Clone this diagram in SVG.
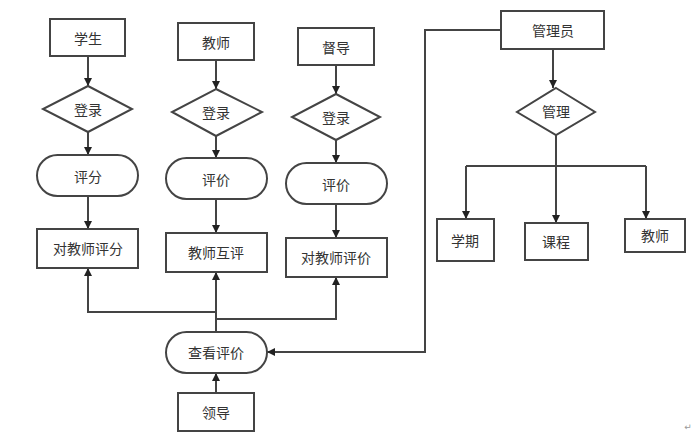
<svg xmlns="http://www.w3.org/2000/svg" width="693" height="445" viewBox="0 0 693 445">
<defs>
<marker id="ah" viewBox="0 0 10 10" refX="10" refY="5" markerWidth="4" markerHeight="4" orient="auto" markerUnits="strokeWidth">
<path d="M0,0 L10,5 L0,10 z" fill="#222"/>
</marker>
<style>
.n{fill:#fff;stroke:#444;stroke-width:2}
.t{font-family:"Noto Sans CJK SC","Noto Sans CJK JP",sans-serif;font-size:14px;fill:#333;text-anchor:middle;dominant-baseline:central}
.c{fill:none;stroke:#444;stroke-width:2;marker-end:url(#ah)}
.l{fill:none;stroke:#444;stroke-width:2}
</style>
</defs>
<rect width="693" height="445" fill="#fff"/>
<g id="connectors">
<path class="c" d="M88,56 V86"/>
<path class="c" d="M88,132 V155"/>
<path class="c" d="M88,196 V229"/>
<path class="c" d="M216,60 V89"/>
<path class="c" d="M216,136 V158"/>
<path class="c" d="M216,199 V233"/>
<path class="c" d="M336,65 V94"/>
<path class="c" d="M336,140 V163"/>
<path class="c" d="M336,204 V238"/>
<path class="c" d="M553,49 V88"/>
<path class="l" d="M556,135 V166"/>
<path class="l" d="M466,166 H646"/>
<path class="c" d="M466,166 V219"/>
<path class="c" d="M556,166 V223"/>
<path class="c" d="M646,166 V219"/>
<path class="c" d="M501,30 H425 V352 H267"/>
<path class="c" d="M216,393 V373"/>
<path class="c" d="M216,332 V272"/>
<path class="c" d="M216,312 H88 V268"/>
<path class="c" d="M216,319 H336 V277"/>
</g>
<g id="student"><rect class="n" x="50" y="19" width="75" height="37"/><text class="t" x="88" y="38">学生</text></g>
<g id="login1"><polygon class="n" points="88,86 132,109 88,132 43,109"/><text class="t" x="88" y="109">登录</text></g>
<g id="score"><rect class="n" x="37" y="155" width="101" height="41" rx="20.5"/><text class="t" x="88" y="176">评分</text></g>
<g id="rateTeacher1"><rect class="n" x="37" y="229" width="101" height="39"/><text class="t" x="88" y="248">对教师评分</text></g>
<g id="teacher"><rect class="n" x="178" y="23" width="76" height="37"/><text class="t" x="216" y="42">教师</text></g>
<g id="login2"><polygon class="n" points="216,89 262,112 216,136 172,112"/><text class="t" x="216" y="112">登录</text></g>
<g id="eval2"><rect class="n" x="166" y="158" width="101" height="41" rx="20.5"/><text class="t" x="216" y="179">评价</text></g>
<g id="peer"><rect class="n" x="166" y="233" width="101" height="39"/><text class="t" x="216" y="252">教师互评</text></g>
<g id="supervisor"><rect class="n" x="298" y="28" width="76" height="37"/><text class="t" x="336" y="47">督导</text></g>
<g id="login3"><polygon class="n" points="336,94 380,117 336,140 292,117"/><text class="t" x="336" y="117">登录</text></g>
<g id="eval3"><rect class="n" x="286" y="163" width="101" height="41" rx="20.5"/><text class="t" x="336" y="184">评价</text></g>
<g id="rateTeacher3"><rect class="n" x="286" y="238" width="101" height="39"/><text class="t" x="336" y="257">对教师评价</text></g>
<g id="admin"><rect class="n" x="501" y="11" width="103" height="38"/><text class="t" x="553" y="30">管理员</text></g>
<g id="manage"><polygon class="n" points="556,88 595,112 556,135 517,112"/><text class="t" x="556" y="111">管理</text></g>
<g id="term"><rect class="n" x="437" y="219" width="57" height="42"/><text class="t" x="465" y="240">学期</text></g>
<g id="course"><rect class="n" x="525" y="223" width="63" height="37"/><text class="t" x="556" y="241">课程</text></g>
<g id="teacher2"><rect class="n" x="625" y="219" width="60" height="33"/><text class="t" x="655" y="235">教师</text></g>
<g id="view"><rect class="n" x="166" y="332" width="101" height="41" rx="20.5"/><text class="t" x="216" y="352">查看评价</text></g>
<g id="leader"><rect class="n" x="178" y="393" width="76" height="38"/><text class="t" x="216" y="412">领导</text></g>
<text x="688" y="430" font-family="DejaVu Sans, sans-serif" font-size="9" fill="#999" text-anchor="middle">↵</text>
</svg>
